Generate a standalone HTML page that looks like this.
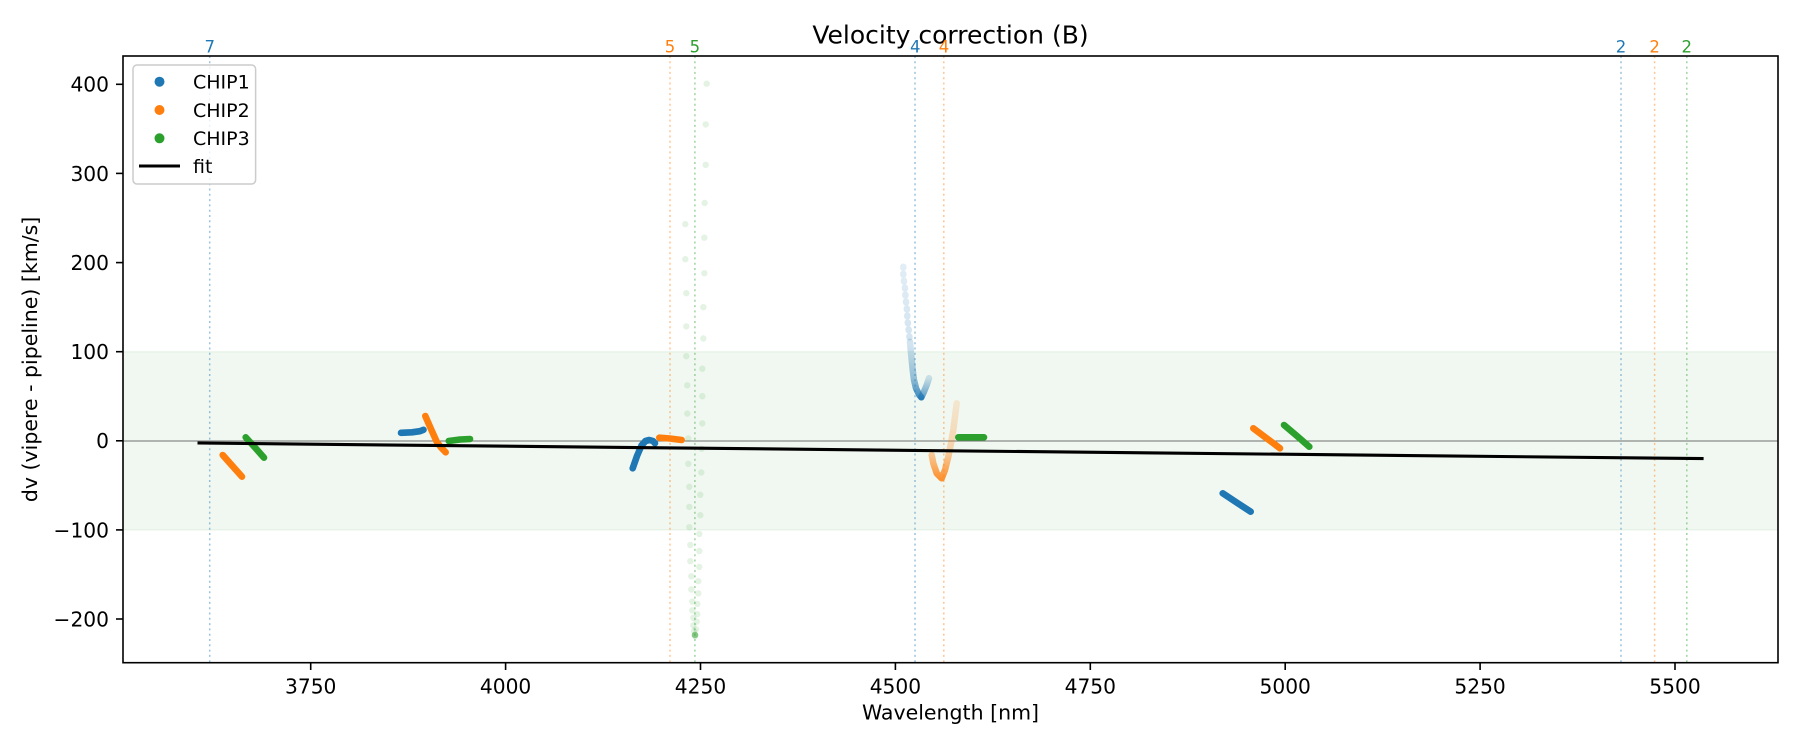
<!DOCTYPE html>
<html><head><meta charset="utf-8"><style>
html,body{margin:0;padding:0;background:#fff;}
svg{display:block;font-family:"DejaVu Sans","Liberation Sans",sans-serif;}
</style></head><body>
<svg width="1800" height="750" viewBox="0 0 1800 750" xmlns="http://www.w3.org/2000/svg">
<defs>
<linearGradient id="gb" gradientUnits="userSpaceOnUse" x1="0" y1="266" x2="0" y2="398">
<stop offset="0" stop-color="#1f77b4" stop-opacity="0.13"/>
<stop offset="0.6" stop-color="#1f77b4" stop-opacity="0.2"/>
<stop offset="0.85" stop-color="#1f77b4" stop-opacity="0.45"/>
<stop offset="1" stop-color="#1f77b4" stop-opacity="0.85"/>
</linearGradient>
<linearGradient id="gb2" gradientUnits="userSpaceOnUse" x1="0" y1="378" x2="0" y2="398">
<stop offset="0" stop-color="#1f77b4" stop-opacity="0.2"/>
<stop offset="1" stop-color="#1f77b4" stop-opacity="0.7"/>
</linearGradient>
<linearGradient id="go" gradientUnits="userSpaceOnUse" x1="0" y1="403" x2="0" y2="479">
<stop offset="0" stop-color="#ff7f0e" stop-opacity="0.15"/>
<stop offset="0.6" stop-color="#ff7f0e" stop-opacity="0.3"/>
<stop offset="1" stop-color="#ff7f0e" stop-opacity="0.85"/>
</linearGradient>
<clipPath id="ax"><rect x="123" y="56" width="1655" height="606.7"/></clipPath>
</defs>

<!-- title -->
<text x="950.5" y="43.3" font-size="25" text-anchor="middle" fill="#000">Velocity correction (B)</text>

<g clip-path="url(#ax)">
<!-- band -->
<rect x="123" y="351.7" width="1655" height="178.2" fill="rgb(0,128,0)" fill-opacity="0.055" stroke="rgb(0,128,0)" stroke-opacity="0.06" stroke-width="1.5"/>
<!-- zero line -->
<line x1="123" y1="441" x2="1778" y2="441" stroke="#707070" stroke-width="1"/>

<!-- vertical dotted lines -->
<g stroke-width="1.5" stroke-dasharray="2,3.3" stroke-opacity="0.45">
<line x1="209.7" y1="56" x2="209.7" y2="662.7" stroke="#1f77b4"/>
<line x1="670" y1="56" x2="670" y2="662.7" stroke="#ff7f0e"/>
<line x1="694.9" y1="56" x2="694.9" y2="662.7" stroke="#2ca02c"/>
<line x1="915" y1="56" x2="915" y2="662.7" stroke="#1f77b4"/>
<line x1="943.8" y1="56" x2="943.8" y2="662.7" stroke="#ff7f0e"/>
<line x1="1621" y1="56" x2="1621" y2="662.7" stroke="#1f77b4"/>
<line x1="1654.6" y1="56" x2="1654.6" y2="662.7" stroke="#ff7f0e"/>
<line x1="1686.8" y1="56" x2="1686.8" y2="662.7" stroke="#2ca02c"/>
</g>

<!-- faded green scatter -->
<g fill="#2ca02c" fill-opacity="0.13">
<circle cx="706.7" cy="83.7" r="3.2"/><circle cx="705.7" cy="124.4" r="3.2"/><circle cx="705.7" cy="164.8" r="3.2"/>
<circle cx="704.7" cy="203" r="3.2"/><circle cx="704.3" cy="237.7" r="3.2"/><circle cx="704.3" cy="273.2" r="3.2"/>
<circle cx="703.3" cy="307.2" r="3.2"/><circle cx="703.3" cy="338.5" r="3.2"/><circle cx="702.3" cy="368.7" r="3.2"/>
<circle cx="702.3" cy="396.2" r="3.2"/><circle cx="702.3" cy="423.4" r="3.2"/><circle cx="701.7" cy="448.7" r="3.2"/>
<circle cx="701.3" cy="472.5" r="3.2"/><circle cx="700.3" cy="494.8" r="3.2"/><circle cx="700.3" cy="515.2" r="3.2"/>
<circle cx="699.3" cy="534" r="3.2"/><circle cx="699.3" cy="551" r="3.2"/><circle cx="699.3" cy="566.9" r="3.2"/>
<circle cx="698.3" cy="581.2" r="3.2"/><circle cx="698.3" cy="593.3" r="3.2"/><circle cx="697.3" cy="603.9" r="3.2"/>
<circle cx="697.3" cy="614.1" r="3.2"/><circle cx="696.7" cy="621.6" r="3.2"/><circle cx="696" cy="629.2" r="3.2"/>
<circle cx="695" cy="634.8" r="3.2"/>
<circle cx="685.3" cy="224.1" r="3.2"/><circle cx="685.3" cy="259.2" r="3.2"/><circle cx="686.3" cy="293.2" r="3.2"/>
<circle cx="686.3" cy="326.4" r="3.2"/><circle cx="686.3" cy="356.2" r="3.2"/><circle cx="687.3" cy="385.3" r="3.2"/>
<circle cx="687.3" cy="413.6" r="3.2"/><circle cx="688.3" cy="438.5" r="3.2"/><circle cx="688.3" cy="463.8" r="3.2"/>
<circle cx="689.3" cy="486.8" r="3.2"/><circle cx="689.3" cy="506.9" r="3.2"/><circle cx="689.3" cy="527.2" r="3.2"/>
<circle cx="690.3" cy="545" r="3.2"/><circle cx="690.3" cy="561.2" r="3.2"/><circle cx="691.3" cy="576.3" r="3.2"/>
<circle cx="691.3" cy="589.5" r="3.2"/><circle cx="692.3" cy="601.6" r="3.2"/><circle cx="692.3" cy="610.3" r="3.2"/>
<circle cx="693.3" cy="617.8" r="3.2"/><circle cx="693.3" cy="625.4" r="3.2"/><circle cx="694" cy="631" r="3.2"/>
<circle cx="695" cy="636" r="3.2"/>
</g>
<circle cx="695" cy="635" r="3.3" fill="#2ca02c" fill-opacity="0.45"/>

<!-- faded curves -->
<polyline fill="none" stroke="url(#gb)" stroke-width="6.5" stroke-linecap="round" stroke-linejoin="round" stroke-dasharray="1,6"
 points="903.3,266.7 903.3,274 904,281.7 905,288.3 905.3,294 906,301.7 906.7,307.3 907.3,313.3 907.3,319.3 908.3,326 909,333.3 910,341.7"/>
<polyline fill="none" stroke="url(#gb)" stroke-width="6.5" stroke-linecap="round" stroke-linejoin="round"
 points="910,341.7 910.7,350 911.7,360 912.7,370 914,380 916,388.3 919.3,395 921.3,397.3"/>
<polyline fill="none" stroke="url(#gb2)" stroke-width="6.5" stroke-linecap="round" stroke-linejoin="round"
 points="921.3,397.3 924,391.7 926.7,385 929,378.3"/>
<polyline fill="none" stroke="url(#go)" stroke-width="6.5" stroke-linecap="round" stroke-linejoin="round"
 points="931.7,455 933.3,463.3 936.7,473.3 941.7,478.3 945,470 948.3,456.7 951,443.3 953.3,430 955,416.7 956.7,403.3"/>

<!-- solid series -->
<g fill="none" stroke-width="6.6" stroke-linecap="round" stroke-linejoin="round">
<polyline stroke="#1f77b4" points="401,432.8 412,432.3 420,431.2 423.5,429.8"/>
<polyline stroke="#1f77b4" points="632.7,468.3 637,456 641.5,445.5 645.5,441 649.3,440 653,441 655,443.3"/>
<polyline stroke="#1f77b4" points="1222.7,493.3 1237,502.8 1250.7,511.7"/>
<polyline stroke="#ff7f0e" points="222.7,455 232,465.5 242,476.7"/>
<polyline stroke="#ff7f0e" points="425.3,416 431,429 436.7,441.7 441,447.5 445.7,452.3"/>
<polyline stroke="#ff7f0e" points="659.3,437.7 670,438.5 681.7,440"/>
<polyline stroke="#ff7f0e" points="1253.3,428.3 1266,437.8 1280,448.3"/>
<polyline stroke="#2ca02c" points="245.7,437.3 255,447.5 264,457.7"/>
<polyline stroke="#2ca02c" points="448.7,441 460,439.5 470,439"/>
<polyline stroke="#2ca02c" points="958.3,437.3 984,437.3"/>
<polyline stroke="#2ca02c" points="1284,425 1297,436 1309.3,446.7"/>
</g>

<!-- fit -->
<line x1="197.5" y1="443" x2="1703.6" y2="458.6" stroke="#000" stroke-width="3.1" stroke-linecap="butt"/>
</g>

<!-- axes frame -->
<rect x="123" y="56" width="1655" height="606.7" fill="none" stroke="#000" stroke-width="1.6"/>

<!-- top labels -->
<g font-size="16.5" text-anchor="middle">
<text x="209.7" y="52.7" fill="#1f77b4">7</text>
<text x="670" y="52.7" fill="#ff7f0e">5</text>
<text x="694.9" y="52.7" fill="#2ca02c">5</text>
<text x="915.3" y="52.7" fill="#1f77b4">4</text>
<text x="944" y="52.7" fill="#ff7f0e">4</text>
<text x="1621" y="52.7" fill="#1f77b4">2</text>
<text x="1654.6" y="52.7" fill="#ff7f0e">2</text>
<text x="1686.8" y="52.7" fill="#2ca02c">2</text>
</g>

<!-- x ticks -->
<g stroke="#000" stroke-width="1.6">
<line x1="310.7" y1="662.7" x2="310.7" y2="670"/>
<line x1="505.6" y1="662.7" x2="505.6" y2="670"/>
<line x1="700.5" y1="662.7" x2="700.5" y2="670"/>
<line x1="895.4" y1="662.7" x2="895.4" y2="670"/>
<line x1="1090.3" y1="662.7" x2="1090.3" y2="670"/>
<line x1="1285.2" y1="662.7" x2="1285.2" y2="670"/>
<line x1="1480.1" y1="662.7" x2="1480.1" y2="670"/>
<line x1="1675" y1="662.7" x2="1675" y2="670"/>
</g>
<g font-size="20.2" text-anchor="middle" fill="#000">
<text x="310.7" y="693.3">3750</text>
<text x="505.6" y="693.3">4000</text>
<text x="700.5" y="693.3">4250</text>
<text x="895.4" y="693.3">4500</text>
<text x="1090.3" y="693.3">4750</text>
<text x="1285.2" y="693.3">5000</text>
<text x="1480.1" y="693.3">5250</text>
<text x="1675" y="693.3">5500</text>
</g>

<!-- y ticks -->
<g stroke="#000" stroke-width="1.6">
<line x1="116" y1="84.3" x2="123" y2="84.3"/>
<line x1="116" y1="173.4" x2="123" y2="173.4"/>
<line x1="116" y1="262.6" x2="123" y2="262.6"/>
<line x1="116" y1="351.7" x2="123" y2="351.7"/>
<line x1="116" y1="440.8" x2="123" y2="440.8"/>
<line x1="116" y1="529.9" x2="123" y2="529.9"/>
<line x1="116" y1="619" x2="123" y2="619"/>
</g>
<g font-size="20.2" text-anchor="end" fill="#000">
<text x="109" y="91.7">400</text>
<text x="109" y="180.8">300</text>
<text x="109" y="270">200</text>
<text x="109" y="359.1">100</text>
<text x="109" y="448.2">0</text>
<text x="109" y="537.3">−100</text>
<text x="109" y="626.4">−200</text>
</g>

<!-- axis labels -->
<text x="950.5" y="719.5" font-size="20.5" text-anchor="middle" fill="#000">Wavelength [nm]</text>
<text transform="translate(37,359.4) rotate(-90)" font-size="20.5" text-anchor="middle" fill="#000">dv (vipere - pipeline) [km/s]</text>

<!-- legend -->
<rect x="133" y="65" width="122.6" height="119" rx="4" ry="4" fill="#fff" fill-opacity="0.8" stroke="#cccccc" stroke-width="1.5"/>
<circle cx="159.5" cy="81.7" r="5" fill="#1f77b4"/>
<circle cx="159.5" cy="110" r="5" fill="#ff7f0e"/>
<circle cx="159.5" cy="138.3" r="5" fill="#2ca02c"/>
<line x1="139" y1="166" x2="180" y2="166" stroke="#000" stroke-width="3.1"/>
<g font-size="19" fill="#000">
<text x="193" y="88.6">CHIP1</text>
<text x="193" y="116.9">CHIP2</text>
<text x="193" y="145.2">CHIP3</text>
<text x="193" y="172.9">fit</text>
</g>
</svg>
</body></html>
